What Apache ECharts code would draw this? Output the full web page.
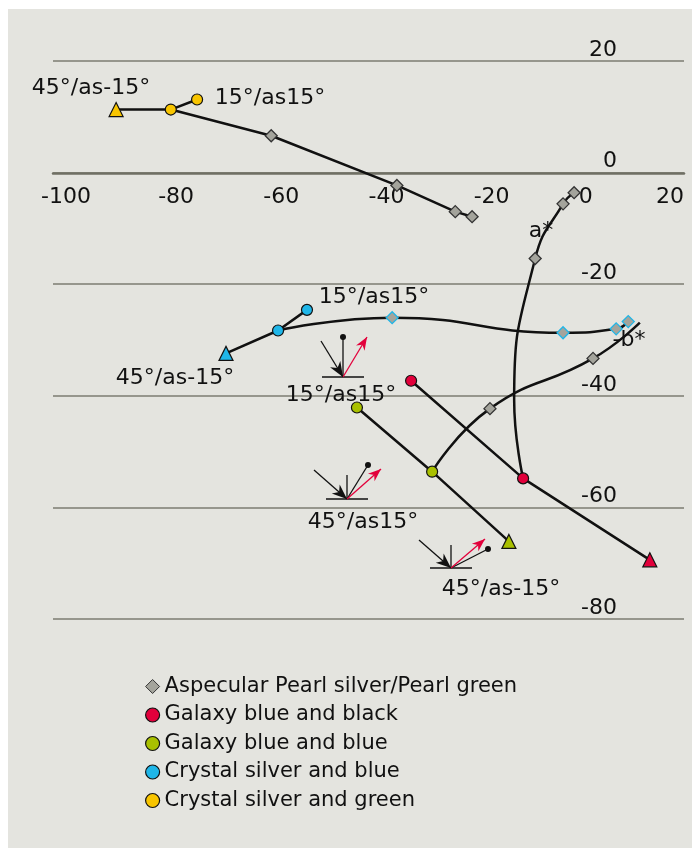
<!DOCTYPE html>
<html>
<head>
<meta charset="utf-8">
<script src="https://cdn.jsdelivr.net/npm/echarts@6/dist/echarts.min.js"></script>
<style>
html, body { margin: 0; padding: 0; background: #fff; }
#bg { position: absolute; left: 8px; top: 9px; width: 684px; height: 839px; background: #e4e4df; }
#chart { position: absolute; left: 0; top: 0; width: 692px; height: 848px; }
</style>
</head>
<body>
<div id="bg"></div>
<div id="chart"></div>
<script>
// ==============================================================
// a*/b* colour travel chart
// ==============================================================
var aspName = 'Aspecular Pearl silver/Pearl green';
var names = [aspName, 'Galaxy blue and black', 'Galaxy blue and blue', 'Crystal silver and blue', 'Crystal silver and green'];

// measured geometry points [a*, b*]
var greenPts = [[-88.0, 11.3], [-77.6, 11.3], [-72.6, 13.1]];      // Crystal silver and green
var cyanPts = [[-67.1, -32.4], [-57.2, -28.3], [-51.7, -24.6]];     // Crystal silver and blue
var blackPts = [[-31.9, -37.3], [-10.6, -54.8], [13.5, -69.4]];     // Galaxy blue and black
var bluePts = [[-42.2, -42.1], [-27.9, -53.6], [-13.3, -66.1]];     // Galaxy blue and blue

// aspecular travel from the 45° point, [a*, b*]
var greenAsp = [[-58.5, 6.6], [-34.6, -2.3], [-23.5, -7.0], [-20.3, -7.9]];
var greenAspMarked = [true, true, true, true];
var cyanAsp = [[-35.5, -26.0], [-3.0, -28.7], [7.1, -28.0], [9.4, -26.7]];
var cyanAspMarked = [true, true, true, true];
var blackAsp = [[-12.3, -40.7], [-8.3, -15.4], [-3.0, -5.6], [-0.9, -3.6]];
var blackAspMarked = [false, true, true, true];
var blueAsp = [[-16.9, -42.3], [2.7, -33.3], [11.6, -26.9]];
var blueAspMarked = [true, true, false];

var xMin = -100, xMax = 20, yMin = -80, yMax = 20, step = 20;

var FONT = 'DejaVu Sans';
var INK = '#111';

function geomSeries(name, pts, triIdx, color) {
    return {
        type: 'line', name: name, z: 4,
        data: pts.map(function (p, i) {
            return { value: p, symbol: i === triIdx ? 'triangle' : 'circle', symbolSize: i === triIdx ? 14 : 11 };
        }),
        lineStyle: { color: INK, width: 2.5 },
        itemStyle: { color: color, borderColor: INK, borderWidth: 1.2 }
    };
}

function aspSeries(start, asp, marked, border, smooth) {
    var data = [{ value: start, symbol: 'none' }];
    asp.forEach(function (p, i) {
        data.push({ value: p, symbol: marked[i] ? 'diamond' : 'none' });
    });
    return {
        type: 'line', name: aspName, z: 3, smooth: smooth,
        data: data, symbolSize: 12,
        lineStyle: { color: INK, width: 2.5 },
        itemStyle: { color: '#a4a49c', borderColor: border, borderWidth: 1.3 }
    };
}

// small geometry sketches (decoration, pixel coords)
var glyphs = [
    { o: [343, 377], inc: [321, 341], red: [367, 337], det: [343, 337], normal: null },
    { o: [347, 499], inc: [314, 470], red: [381, 469], det: [368, 465], normal: [347, 475] },
    { o: [451, 568], inc: [419, 540], red: [485, 539], det: [488, 549], normal: [451, 545] }
];

var notes = [
    ['45°/as-15°', 91, 88], ['15°/as15°', 270, 98],
    ['15°/as15°', 374, 297], ['45°/as-15°', 175, 378],
    ['15°/as15°', 341, 395], ['45°/as15°', 363, 522],
    ['45°/as-15°', 501, 589], ['a*', 541, 231], ['-b*', 629, 340]
];

function seg(a, b, color, w) {
    return { type: 'line', z: 10, shape: { x1: a[0], y1: a[1], x2: b[0], y2: b[1] }, style: { stroke: color, lineWidth: w } };
}
function head(from, tip, color, len, half) {
    var dx = tip[0] - from[0], dy = tip[1] - from[1], d = Math.sqrt(dx * dx + dy * dy);
    var ux = dx / d, uy = dy / d;
    var bx = tip[0] - ux * len, by = tip[1] - uy * len;
    return {
        type: 'polygon', z: 11,
        shape: { points: [tip, [bx - uy * half, by + ux * half], [tip[0] - ux * len * 0.7, tip[1] - uy * len * 0.7], [bx + uy * half, by - ux * half]] },
        style: { fill: color }
    };
}

var graphics = [];
glyphs.forEach(function (g) {
    graphics.push(seg([g.o[0] - 21, g.o[1]], [g.o[0] + 21, g.o[1]], INK, 1.5));
    if (g.normal) graphics.push(seg(g.o, g.normal, INK, 1.3));
    graphics.push(seg(g.o, g.det, INK, 1.3));
    graphics.push({ type: 'circle', z: 11, shape: { cx: g.det[0], cy: g.det[1], r: 3 }, style: { fill: INK } });
    graphics.push(seg(g.inc, g.o, INK, 1.3));
    graphics.push(head(g.inc, g.o, INK, 15, 6));
    graphics.push(seg(g.o, g.red, '#e2003b', 1.3));
    graphics.push(head(g.o, g.red, '#e2003b', 13, 5));
});
notes.forEach(function (n) {
    graphics.push({
        type: 'text', z: 12, x: n[1], y: n[2],
        style: { text: n[0], fill: INK, font: '22px "' + FONT + '"', align: 'center', verticalAlign: 'middle' }
    });
});

var chart = echarts.init(document.getElementById('chart'));

option = {
    animation: false,
    textStyle: { fontFamily: FONT },
    grid: { left: 53, right: 8, top: 61, bottom: 229, containLabel: false, outerBoundsMode: 'none' },
    xAxis: {
        type: 'value', min: xMin, max: xMax, interval: step,
        offset: -446,
        axisLine: { onZero: false, lineStyle: { color: '#6f6f64', width: 2.5 } },
        axisTick: { show: false },
        splitLine: { show: false },
        axisLabel: {
            fontSize: 22, color: INK, margin: 13,
            align: 'left', alignMinLabel: 'center', alignMaxLabel: 'right',
            formatter: function (v) { return v === xMin ? '{m|' + v + '}' : String(v); },
            rich: { m: { fontSize: 22, color: INK, fontFamily: FONT, padding: [0, 0, 0, 26] } }
        }
    },
    yAxis: {
        type: 'value', min: yMin, max: yMax, interval: step, position: 'right',
        axisLine: { show: false },
        axisTick: { show: false },
        splitLine: { lineStyle: { color: '#7d7d72', width: 1.5 } },
        axisLabel: { inside: true, margin: 67, align: 'right', verticalAlign: 'bottom', fontSize: 22, color: INK }
    },
    legend: {
        orient: 'vertical', left: 145, top: 676, padding: 0,
        itemWidth: 14, itemHeight: 14, itemGap: 7.5, selectedMode: false,
        textStyle: { fontSize: 21, lineHeight: 21, color: INK, fontFamily: FONT },
        data: [
            { name: names[0], icon: 'diamond', itemStyle: { color: '#a4a49c', borderColor: '#333', borderWidth: 1 } },
            { name: names[1], icon: 'circle', itemStyle: { color: '#e2003b', borderColor: INK, borderWidth: 1.2 } },
            { name: names[2], icon: 'circle', itemStyle: { color: '#a9c000', borderColor: INK, borderWidth: 1.2 } },
            { name: names[3], icon: 'circle', itemStyle: { color: '#1fb6e8', borderColor: INK, borderWidth: 1.2 } },
            { name: names[4], icon: 'circle', itemStyle: { color: '#f8c500', borderColor: INK, borderWidth: 1.2 } }
        ]
    },
    graphic: graphics,
    series: [
        aspSeries(greenPts[1], greenAsp, greenAspMarked, '#333', false),
        aspSeries(cyanPts[1], cyanAsp, cyanAspMarked, '#1fb6e8', 0.5),
        aspSeries(blackPts[1], blackAsp, blackAspMarked, '#333', 0.5),
        aspSeries(bluePts[1], blueAsp, blueAspMarked, '#333', 0.5),
        geomSeries(names[1], blackPts, 2, '#e2003b'),
        geomSeries(names[2], bluePts, 2, '#a9c000'),
        geomSeries(names[3], cyanPts, 0, '#1fb6e8'),
        geomSeries(names[4], greenPts, 0, '#f8c500')
    ]
};

chart.setOption(option, true);
</script>
</body>
</html>
